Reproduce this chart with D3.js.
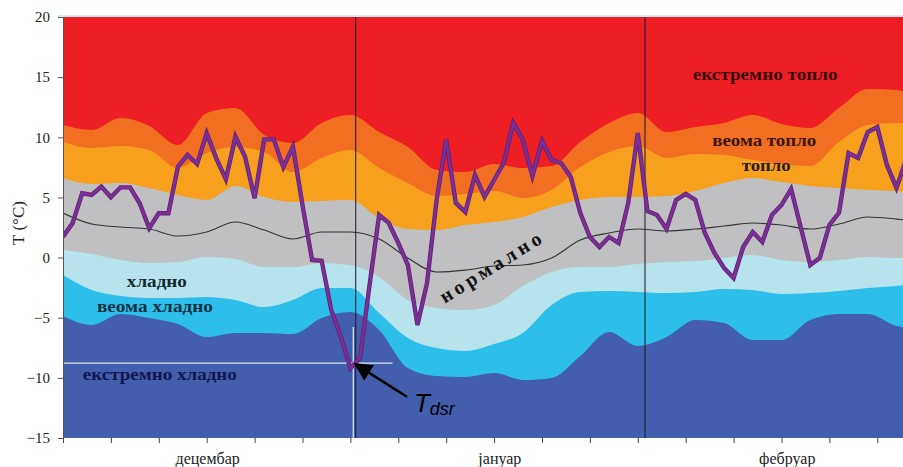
<!DOCTYPE html>
<html>
<head>
<meta charset="utf-8">
<script src="https://cdn.jsdelivr.net/npm/d3@7"></script>
<style>
  html, body { margin: 0; padding: 0; background: #fff; }
  svg { display: block; }
</style>
</head>
<body>
<svg id="chart" width="903" height="467"></svg>
<script>
  'use strict';

  /*
   * Daily mean temperature (Tdsr) for Dec-Feb drawn over the climatological
   * percentile bands. Band edges are sampled every 3 days, Tdsr is daily.
   */

  var bandDays = [0, 3, 6, 9, 12, 15, 18, 21, 24, 27, 30, 33, 36, 39, 42, 45,
                  48, 51, 54, 57, 60, 63, 66, 69, 72, 75, 78, 81, 84, 87, 88];

  // lower edge of "екстремно топло"
  var extremeWarmLow = [11.02, 10.60, 11.60, 10.94, 9.36, 12.02, 12.43, 10.19,
    9.52, 11.19, 11.85, 10.44, 9.19, 7.28, 7.11, 7.78, 7.45, 7.61, 9.61, 11.19,
    12.02, 10.44, 10.86, 11.19, 11.85, 11.10, 10.77, 12.43, 14.01, 13.93, 13.76];

  // lower edge of "веома топло"
  var veryWarmLow = [9.61, 9.11, 9.27, 8.94, 7.45, 8.69, 9.19, 8.78, 7.11, 8.28,
    8.94, 7.45, 6.20, 5.12, 5.28, 5.53, 4.95, 5.62, 7.53, 8.78, 9.27, 8.28, 8.61,
    8.53, 8.11, 7.78, 7.61, 9.61, 11.02, 11.19, 11.19];

  // lower edge of "топло"
  var warmLow = [6.61, 6.11, 6.20, 5.78, 5.20, 4.78, 5.95, 5.03, 4.62, 4.70,
    4.78, 3.29, 2.37, 2.29, 2.71, 2.96, 3.37, 4.20, 4.78, 5.03, 5.03, 5.12, 5.53,
    6.20, 6.61, 6.28, 5.95, 5.78, 5.62, 5.53, 5.45];

  // lower edge of "нормално"
  var normalLow = [0.63, 0.30, -0.20, -0.45, -0.37, 0.05, -0.12, -0.79, -0.79,
    -0.45, -0.62, -1.62, -3.53, -4.19, -4.36, -3.94, -2.37, -1.20, -0.79, -0.79,
    -0.54, -0.37, -0.29, -0.04, 0.21, -0.20, -0.37, -0.20, 0.05, -0.04, -0.04];

  // lower edge of "хладно"
  var coldLow = [-1.45, -2.70, -3.20, -3.36, -3.36, -3.28, -3.53, -4.11, -3.53,
    -2.53, -2.53, -4.61, -6.69, -7.52, -7.77, -7.19, -6.27, -3.94, -2.86, -2.78,
    -2.86, -2.95, -2.86, -2.61, -2.70, -3.03, -2.95, -2.78, -2.53, -2.37, -2.28];

  // lower edge of "веома хладно"
  var veryColdLow = [-4.86, -5.61, -4.69, -5.02, -5.52, -6.61, -6.27, -6.27,
    -6.36, -5.02, -4.53, -6.02, -9.18, -9.85, -9.93, -9.60, -10.18, -10.01,
    -8.19, -6.19, -7.35, -6.61, -5.19, -5.44, -6.85, -6.85, -5.19, -4.69, -4.69,
    -5.69, -5.86];

  // climatological normal
  var normalMean = [3.70, 2.79, 2.54, 2.37, 1.79, 2.12, 2.96, 2.29, 1.54, 2.12,
    2.12, 1.54, -0.04, -1.20, -1.04, -0.70, -0.62, -0.04, 1.46, 2.04, 2.37, 2.21,
    2.37, 2.62, 2.87, 2.71, 2.37, 2.79, 3.37, 3.20, 3.12];

  // daily mean temperature, day 0 = 1 December
  var tdsr = [1.74, 2.85, 5.34, 5.2, 5.9, 5.01, 5.84, 5.84, 4.51, 2.44,
    3.68, 3.68, 7.56, 8.53, 7.78, 10.33, 8.25, 6.51, 10.05, 8.39,
    4.93, 9.83, 9.83, 7.51, 9.22, 4.37, -0.2, -0.26, -4.36, -6.58,
    -9.2, -8.35, -2.28, 3.54, 2.88, 1.21, -0.62, -5.6, -2.11, 4.79,
    9.78, 4.54, 3.79, 6.87, 5.04, 6.45, 7.86, 11.19, 9.78, 6.78,
    9.7, 8.11, 7.86, 6.7, 3.71, 1.71, 0.88, 1.71, 1.21, 4.54,
    10.36, 3.87, 3.54, 2.38, 4.79, 5.29, 4.79, 2.04, 0.38, -0.86,
    -1.7, 0.88, 2.13, 1.3, 3.54, 4.37, 5.7, 2.54, -0.62, -0.03,
    2.71, 3.71, 8.69, 8.28, 10.44, 10.86, 7.7, 5.79, 8.11];

  var yTicks = [-15, -10, -5, 0, 5, 10, 15, 20];
  var xTicks = [0, 5, 10, 15, 20, 25, 30, 35, 40, 45, 50, 55, 60, 65, 70, 75, 80, 85];
  var months = ['децембар', 'јануар', 'фебруар'];
  var monthMid = [15.1, 45.6, 75.6];
  var monthBreaks = [30.55, 60.75];

  var bandNames = ['екстремно топло', 'веома топло', 'топло', 'нормално',
                   'хладно', 'веома хладно', 'екстремно хладно'];

  // Tdsr marker (crosshair + arrow)
  var tdsrMark = { day: 30.3, t: -8.77 };

  var svg = d3.select('#chart');
  var margin = { left: 63, top: 17 };
  var plotW = 840, plotH = 421;

  var x = d3.scaleLinear().domain([0, 88]).range([margin.left, margin.left + 88 * 9.58]);
  var y = d3.scaleLinear().domain([-15, 20]).range([margin.top + plotH, margin.top]);

  svg.append('defs').append('clipPath').attr('id', 'plot')
    .append('rect')
      .attr('x', margin.left).attr('y', margin.top)
      .attr('width', plotW).attr('height', plotH);

  var plot = svg.append('g').attr('clip-path', 'url(#plot)');

  // top band is just the background
  plot.append('rect')
    .attr('x', margin.left).attr('y', margin.top)
    .attr('width', plotW).attr('height', plotH)
    .attr('fill', '#ed1f24');

  function edgeArea(vals) {
    return d3.area()
      .curve(d3.curveMonotoneX)
      .x(function(d, i) { return x(bandDays[i]); })
      .y0(y(-15))
      .y1(function(d) { return y(d); })(vals);
  }

  var edges = [
    { vals: extremeWarmLow, fill: '#f26f22' },
    { vals: veryWarmLow,    fill: '#f6a01e' },
    { vals: warmLow,        fill: '#c0c0c2' },
    { vals: normalLow,      fill: '#b6e3ec' },
    { vals: coldLow,        fill: '#2ebeea' },
    { vals: veryColdLow,    fill: '#425eac' }
  ];

  plot.selectAll('path.band')
    .data(edges)
    .enter().append('path')
      .attr('class', 'band')
      .attr('d', function(e) { return edgeArea(e.vals); })
      .attr('fill', function(e) { return e.fill; });

  // normal
  plot.append('path')
    .attr('d', d3.line()
      .curve(d3.curveMonotoneX)
      .x(function(d, i) { return x(bandDays[i]); })
      .y(function(d) { return y(d); })(normalMean))
    .attr('fill', 'none')
    .attr('stroke', '#333')
    .attr('stroke-width', 1.1);

  // crosshair at the Tdsr minimum
  plot.append('line')
    .attr('x1', x(0)).attr('x2', x(tdsrMark.day + 4.1))
    .attr('y1', y(tdsrMark.t)).attr('y2', y(tdsrMark.t))
    .attr('stroke', '#fff').attr('stroke-width', 1.2).attr('opacity', 0.85);
  plot.append('line')
    .attr('x1', x(tdsrMark.day)).attr('x2', x(tdsrMark.day))
    .attr('y1', y(tdsrMark.t + 3)).attr('y2', y(-15))
    .attr('stroke', '#fff').attr('stroke-width', 1.2).attr('opacity', 0.85);

  // month dividers
  plot.selectAll('line.month')
    .data(monthBreaks)
    .enter().append('line')
      .attr('class', 'month')
      .attr('x1', x).attr('x2', x)
      .attr('y1', y(20)).attr('y2', y(-15))
      .attr('stroke', '#1c1c30')
      .attr('stroke-opacity', 0.8)
      .attr('stroke-width', 1.3);

  // Tdsr
  var tLine = d3.line()
    .x(function(d, i) { return x(i); })
    .y(function(d) { return y(d); });

  plot.append('path')
    .attr('d', tLine(tdsr))
    .attr('fill', 'none')
    .attr('stroke', '#62217a')
    .attr('stroke-width', 4.4)
    .attr('stroke-linejoin', 'miter');
  plot.append('path')
    .attr('d', tLine(tdsr))
    .attr('fill', 'none')
    .attr('stroke', '#7c3096')
    .attr('stroke-width', 2.6);

  // band labels
  var labelAt = [
    { name: bandNames[0], day: 73.3, t: 15.18, len: 145, fill: '#3a0c0c' },
    { name: bandNames[1], day: 73.2, t: 9.71,  len: 104, fill: '#3a140a' },
    { name: bandNames[2], day: 73.4, t: 7.64,  len: 49,  fill: '#2a1a0a' },
    { name: bandNames[4], day: 9.8,  t: -2.06, len: 60,  fill: '#122a30' },
    { name: bandNames[5], day: 9.6,  t: -4.09, len: 116, fill: '#0e3040' },
    { name: bandNames[6], day: 10.1, t: -9.76, len: 154, fill: '#141450' }
  ];

  plot.selectAll('text.band')
    .data(labelAt)
    .enter().append('text')
      .attr('class', 'band')
      .attr('x', function(d) { return x(d.day) - d.len / 2; })
      .attr('y', function(d) { return y(d.t) + 5; })
      .attr('textLength', function(d) { return d.len; })
      .attr('lengthAdjust', 'spacingAndGlyphs')
      .attr('font-family', 'Liberation Serif, serif')
      .attr('font-weight', 'bold')
      .attr('font-size', 16)
      .attr('fill', function(d) { return d.fill; })
      .text(function(d) { return d.name; });

  // "нормално" follows the normal line
  plot.append('text')
    .attr('transform', 'translate(' + x(44.6) + ',' + y(-0.8) + ') rotate(-32)')
    .attr('x', -58).attr('y', 7)
    .attr('textLength', 116)
    .attr('lengthAdjust', 'spacing')
    .attr('font-family', 'Liberation Serif, serif')
    .attr('font-weight', 'bold')
    .attr('font-size', 20)
    .attr('fill', '#111')
    .text(bandNames[3]);

  // arrow + label
  svg.append('defs').append('marker')
    .attr('id', 'head')
    .attr('viewBox', '0 0 10 10')
    .attr('refX', 9).attr('refY', 5)
    .attr('markerWidth', 9).attr('markerHeight', 7)
    .attr('markerUnits', 'strokeWidth')
    .attr('orient', 'auto')
    .append('path').attr('d', 'M0,0L10,5L0,10z').attr('fill', '#000');

  var ax0 = x(tdsrMark.day + 5.6), ay0 = y(tdsrMark.t - 2.8);
  svg.append('line')
    .attr('x1', ax0).attr('y1', ay0)
    .attr('x2', x(tdsrMark.day) + 2).attr('y2', y(tdsrMark.t) + 1)
    .attr('stroke', '#000')
    .attr('stroke-width', 2.6)
    .attr('marker-end', 'url(#head)');

  var tl = svg.append('text')
    .attr('x', ax0 + 7).attr('y', ay0 + 15)
    .attr('font-family', 'Liberation Sans, Arial, sans-serif')
    .attr('font-style', 'italic')
    .attr('fill', '#000');
  tl.append('tspan').attr('font-size', 26).text('T');
  tl.append('tspan').attr('font-size', 18).attr('dy', 3).text('dsr');

  // axes
  var yAxis = svg.append('g')
    .attr('transform', 'translate(' + margin.left + ',0)')
    .call(d3.axisLeft(y).tickValues(yTicks).tickSize(5).tickPadding(8));
  yAxis.select('.domain').attr('stroke', '#555');
  yAxis.selectAll('.tick line').attr('stroke', '#555');
  yAxis.selectAll('text')
    .attr('font-family', 'Liberation Serif, serif')
    .attr('font-size', 15)
    .attr('fill', '#222');

  var xAxis = svg.append('g')
    .attr('transform', 'translate(0,' + (margin.top + plotH) + ')')
    .call(d3.axisBottom(x).tickValues(xTicks).tickSize(5).tickFormat(''));
  xAxis.select('.domain').remove();
  xAxis.selectAll('.tick line').attr('stroke', '#444');

  svg.selectAll('text.month')
    .data(months)
    .enter().append('text')
      .attr('class', 'month')
      .attr('x', function(d, i) { return x(monthMid[i]); })
      .attr('y', 464)
      .attr('text-anchor', 'middle')
      .attr('font-family', 'Liberation Serif, serif')
      .attr('font-size', 16)
      .attr('fill', '#222')
      .text(function(d) { return d; });

  // frame line on top
  svg.append('line')
    .attr('x1', 58).attr('x2', 903)
    .attr('y1', margin.top - 1).attr('y2', margin.top - 1)
    .attr('stroke', '#cfe3ea').attr('stroke-width', 1.5);

  svg.append('text')
    .attr('transform', 'translate(24,223) rotate(-90)')
    .attr('text-anchor', 'middle')
    .attr('font-family', 'Liberation Serif, serif')
    .attr('font-size', 17)
    .attr('fill', '#222')
    .text('T (°C)');
</script>
</body>
</html>
